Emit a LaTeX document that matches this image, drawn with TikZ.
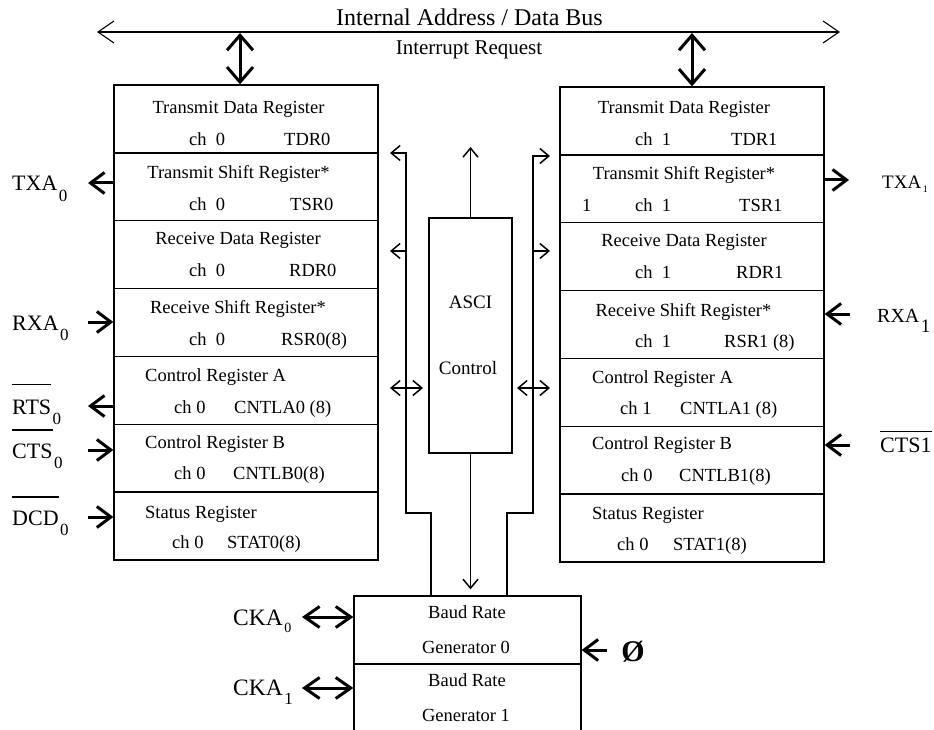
\documentclass[tikz,border=0pt]{standalone}
\usepackage{fontspec}
\setmainfont{Liberation Serif}
\usetikzlibrary{arrows.meta}

% overline raised well above a label
\newcommand{\topbar}[2][1.25em]{\setbox0=\hbox{#2}\rlap{\rule[#1]{\wd0}{1.1pt}}\box0}
% lowered subscript: size, drop, text
\newcommand{\lowsub}[3]{\kern1.5pt\raisebox{-#2}{\fontsize{#1}{#1}\selectfont #3}}

\begin{document}
\begin{tikzpicture}[x=1pt,y=-1pt,
  regbox/.style={draw, line width=1.3pt, inner sep=0pt, minimum width=264pt, minimum height=67.857pt},
  plainbox/.style={draw, line width=1.3pt, inner sep=0pt},
  txt/.style={inner sep=0pt, anchor=base, font=\fontsize{18.5}{20}\selectfont},
  txtw/.style={inner sep=0pt, anchor=base west, font=\fontsize{18.5}{20}\selectfont},
  lbl/.style={inner sep=0pt, anchor=base west, font=\fontsize{22}{24}\selectfont},
  busline/.style={line width=1.1pt, >={Straight Barb[length=16pt,width=22pt]}, <->},
  tap/.style={line width=3pt, >={Straight Barb[length=15pt,width=26pt]}, <->},
  sig/.style={line width=3pt, >={Straight Barb[length=14pt,width=21pt]}, ->},
  sigboth/.style={line width=3pt, >={Straight Barb[length=15pt,width=21pt]}, <->},
  inner/.style={line width=1.5pt, >={Straight Barb[length=9pt,width=15pt]}, ->},
  innerboth/.style={line width=1.5pt, >={Straight Barb[length=9pt,width=15pt]}, <->}
]
\useasboundingbox (0,0) rectangle (934,730);

% ---------- internal bus ----------
\coordinate (busW) at (97,32);
\coordinate (busE) at (840,32);
\draw[busline] (busW) -- (busE);
\node[inner sep=0pt, anchor=base, font=\fontsize{24}{26}\selectfont] (busname) at (469.5,26) {Internal Address / Data Bus};
\node[inner sep=0pt, anchor=base, font=\fontsize{21}{23}\selectfont] (irq) at (469,55) {Interrupt Request};

% ---------- channel 0 registers ----------
\node[regbox] (L1) at (246,118.93) {};
\node[regbox] (L2) at (246,186.79) {};
\node[regbox] (L3) at (246,254.64) {};
\node[regbox] (L4) at (246,322.50) {};
\node[regbox] (L5) at (246,390.36) {};
\node[regbox] (L6) at (246,458.21) {};
\node[regbox] (L7) at (246,526.07) {};

\node[txt]  (lt1) at (238.5,113.5) {Transmit Data Register};
\node[txtw] (lc1) at (189,145.5) {ch\ \ 0};
\node[txtw] (lr1) at (284,145.5) {TDR0};
\node[txt]  (lt2) at (238.5,178.5) {Transmit Shift Register*};
\node[txtw] (lc2) at (189,210.5) {ch\ \ 0};
\node[txtw] (lr2) at (290,210.5) {TSR0};
\node[txt]  (lt3) at (238,244.5) {Receive Data Register};
\node[txtw] (lc3) at (189,276.5) {ch\ \ 0};
\node[txtw] (lr3) at (289,276.5) {RDR0};
\node[txt]  (lt4) at (238,313.5) {Receive Shift Register*};
\node[txtw] (lc4) at (189,345.5) {ch\ \ 0};
\node[txtw] (lr4) at (281,345.5) {RSR0(8)};
\node[txtw] (lt5) at (145,381.5) {Control Register A};
\node[txtw] (lc5) at (174,413.5) {ch 0};
\node[txtw] (lr5) at (234,413.5) {CNTLA0 (8)};
\node[txtw] (lt6) at (145,448.5) {Control Register B};
\node[txtw] (lc6) at (174,479.5) {ch 0};
\node[txtw] (lr6) at (233,479.5) {CNTLB0(8)};
\node[txtw] (lt7) at (145,518.5) {Status Register};
\node[txtw] (lc7) at (172,548.5) {ch 0};
\node[txtw] (lr7) at (227,548.5) {STAT0(8)};

% ---------- channel 1 registers ----------
\node[regbox] (R1) at (692,120.93) {};
\node[regbox] (R2) at (692,188.79) {};
\node[regbox] (R3) at (692,256.64) {};
\node[regbox] (R4) at (692,324.50) {};
\node[regbox] (R5) at (692,392.36) {};
\node[regbox] (R6) at (692,460.21) {};
\node[regbox] (R7) at (692,528.07) {};

\node[txt]  (rt1) at (684,113.5) {Transmit Data Register};
\node[txtw] (rc1) at (635,145.5) {ch\ \ 1};
\node[txtw] (rr1) at (731,145.5) {TDR1};
\node[txt]  (rt2) at (684,179.5) {Transmit Shift Register*};
\node[txtw] (rx2) at (582,211.5) {1};
\node[txtw] (rc2) at (635,211.5) {ch\ \ 1};
\node[txtw] (rr2) at (739,211.5) {TSR1};
\node[txt]  (rt3) at (684,246.5) {Receive Data Register};
\node[txtw] (rc3) at (635,278.5) {ch\ \ 1};
\node[txtw] (rr3) at (736,278.5) {RDR1};
\node[txt]  (rt4) at (683.5,316.5) {Receive Shift Register*};
\node[txtw] (rc4) at (635,347.5) {ch\ \ 1};
\node[txtw] (rr4) at (724,347.5) {RSR1 (8)};
\node[txtw] (rt5) at (592,383.5) {Control Register A};
\node[txtw] (rc5) at (620,414.5) {ch 1};
\node[txtw] (rr5) at (680,414.5) {CNTLA1 (8)};
\node[txtw] (rt6) at (592,449.5) {Control Register B};
\node[txtw] (rc6) at (621,481.5) {ch 0};
\node[txtw] (rr6) at (679,481.5) {CNTLB1(8)};
\node[txtw] (rt7) at (592,519.5) {Status Register};
\node[txtw] (rc7) at (617,550.5) {ch 0};
\node[txtw] (rr7) at (673,550.5) {STAT1(8)};

% ---------- ASCI control ----------
\node[plainbox, minimum width=83pt, minimum height=235pt] (asci) at (470.5,335.5) {};
\node[inner sep=0pt, anchor=base, font=\fontsize{19}{21}\selectfont] (asciname) at (470.5,308.5) {ASCI};
\node[inner sep=0pt, anchor=base, font=\fontsize{19}{21}\selectfont] (ascictl) at (468,374.5) {Control};

% ---------- baud rate generators ----------
\node[plainbox, minimum width=227pt, minimum height=68pt] (gen0) at (467.5,630) {};
\node[plainbox, minimum width=227pt, minimum height=68pt] (gen1) at (467.5,698) {};
\node[txt] (g0a) at (467,618) {Baud Rate};
\node[txt] (g0b) at (466,653) {Generator 0};
\node[txt] (g1a) at (467,686) {Baud Rate};
\node[txt] (g1b) at (466,721) {Generator 1};

% ---------- bus taps ----------
\coordinate (tapL) at (240,33);
\coordinate (tapR) at (692,33);
\draw[tap] (tapL) -- (tapL |- L1.north);
\draw[tap] (tapR) -- (R1.north);

% ---------- ASCI control paths ----------
\coordinate (asciout) at (470.5,147);
\draw[inner] (asci.north) -- (asciout);
\draw[inner, shorten >=6pt] (asci.south) -- (asci.south |- gen0.north);

% rail to channel 0
\coordinate (lrailx) at (431,0);
\coordinate (ljog) at (406,513);
\coordinate (ltop) at (406,153);
\coordinate (ltx) at (390,153);
\coordinate (lmid) at (406,251);
\coordinate (lrx) at (390,251);
\coordinate (lctlA) at (390,388);
\coordinate (lctlB) at (423,388);
\draw[inner] (lrailx |- gen0.north) |- (ljog) -- (ltop) -- (ltx);
\draw[inner] (lmid) -- (lrx);
\draw[innerboth] (lctlA) -- (lctlB);

% rail to channel 1
\coordinate (rrailx) at (507,0);
\coordinate (rjog) at (533,513);
\coordinate (rtop) at (533,156);
\coordinate (rtx) at (550,156);
\coordinate (rmid) at (533,251);
\coordinate (rrx) at (550,251);
\coordinate (rctlA) at (517,388);
\coordinate (rctlB) at (550,388);
\draw[inner] (rrailx |- gen0.north) |- (rjog) -- (rtop) -- (rtx);
\draw[inner] (rmid) -- (rrx);
\draw[innerboth] (rctlA) -- (rctlB);

% ---------- channel 0 pins ----------
\coordinate (txa0) at (88,183);
\coordinate (rxa0) at (88,322);
\coordinate (rts0) at (88,406);
\coordinate (cts0) at (88,450);
\coordinate (dcd0) at (88,517);
\draw[sig] (txa0 -| L2.west) -- (txa0);
\draw[sig] (rxa0) -- (rxa0 -| L4.west);
\draw[sig] (rts0 -| L5.west) -- (rts0);
\draw[sig] (cts0) -- (cts0 -| L6.west);
\draw[sig] (dcd0) -- (dcd0 -| L7.west);
\node[lbl] (txa0lbl) at (12,191) {TXA\lowsub{17}{10pt}{0}};
\node[lbl] (rxa0lbl) at (12,330) {RXA\lowsub{17}{10pt}{0}};
\node[lbl] (rts0lbl) at (12,414) {\topbar[1.3em]{RTS}\lowsub{17}{10pt}{0}};
\node[lbl] (cts0lbl) at (12,458) {\topbar{CTS}\lowsub{17}{10pt}{0}};
\node[lbl] (dcd0lbl) at (12,525) {\topbar{DCD}\lowsub{17}{10pt}{0}};

% ---------- channel 1 pins ----------
\coordinate (txa1) at (849,180);
\coordinate (rxa1) at (850,314);
\coordinate (cts1) at (850,445);
\draw[sig] (txa1 -| R2.east) -- (txa1);
\draw[sig] (rxa1) -- (rxa1 -| R4.east);
\draw[sig] (cts1) -- (cts1 -| R6.east);
\node[lbl, font=\fontsize{19}{21}\selectfont] (txa1lbl) at (882,189) {TXA\lowsub{10}{4pt}{1}};
\node[lbl, font=\fontsize{20}{22}\selectfont] (rxa1lbl) at (877,322) {RXA\lowsub{19}{10pt}{1}};
\node[lbl] (cts1lbl) at (880,452) {\topbar[0.92em]{CTS1}};

% ---------- clock pins ----------
\coordinate (cka0) at (302,617);
\coordinate (cka1) at (302,688);
\coordinate (phi) at (607,650);
\draw[sigboth] (cka0) -- (cka0 -| gen0.west);
\draw[sigboth] (cka1) -- (cka1 -| gen1.west);
\draw[sig] (phi) -- (phi -| gen0.east);
\node[lbl, font=\fontsize{23.5}{25}\selectfont] (cka0lbl) at (233,625) {CKA\lowsub{14}{7pt}{0}};
\node[lbl, font=\fontsize{23.5}{25}\selectfont] (cka1lbl) at (233,695) {CKA\lowsub{17}{9pt}{1}};
\node[inner sep=0pt, anchor=base, font=\fontsize{30}{32}\selectfont\bfseries] (phil) at (633,661) {Ø};
\end{tikzpicture}
\end{document}
